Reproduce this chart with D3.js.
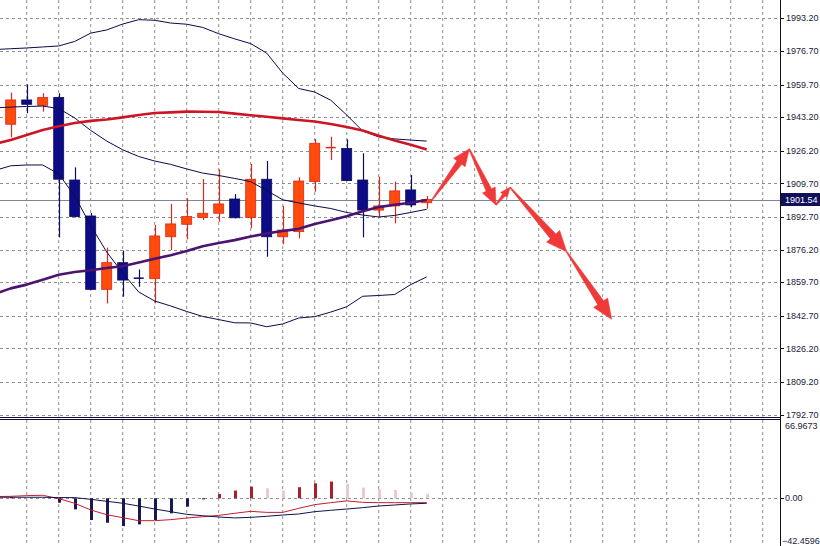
<!DOCTYPE html>
<html>
<head>
<meta charset="utf-8">
<script src="https://cdn.jsdelivr.net/npm/d3@7/dist/d3.min.js"></script>
<style>
  html, body { margin: 0; padding: 0; background: #fff; }
  svg { display: block; font-family: "Liberation Sans", Arial, sans-serif; }
</style>
</head>
<body>
<div id="chart"></div>
<script>
// candles, oldest first
const opens  = [1939.6, 1951.9, 1949.2, 1953.2, 1911.4, 1893.2, 1856.1, 1869.6, 1861.8, 1861.5, 1882.7, 1889.0, 1892.5, 1894.6, 1901.8, 1892.5, 1911.8, 1882.7, 1885.3, 1910.6, 1927.7, 1927.4, 1911.4, 1896.2, 1898.3, 1906.4, 1899.9];
const highs  = [1955.6, 1959.8, 1955.3, 1955.3, 1917.8, 1894.7, 1877.2, 1875.7, 1866.2, 1888.7, 1899.3, 1902.2, 1911.9, 1916.8, 1904.3, 1919.5, 1921.0, 1898.3, 1912.8, 1932.2, 1933.3, 1932.0, 1924.9, 1913.1, 1910.6, 1913.9, 1903.3];
const lows   = [1933.0, 1945.2, 1946.0, 1882.4, 1892.5, 1855.8, 1849.0, 1852.4, 1857.4, 1849.0, 1876.0, 1881.4, 1891.2, 1890.3, 1892.0, 1887.0, 1872.6, 1878.9, 1881.9, 1905.5, 1921.5, 1910.9, 1882.4, 1892.9, 1889.5, 1897.6, 1896.9];
const closes = [1951.9, 1949.7, 1953.2, 1911.8, 1892.9, 1856.1, 1869.6, 1860.8, 1861.7, 1883.1, 1889.2, 1892.9, 1894.6, 1899.3, 1892.3, 1911.8, 1882.7, 1886.1, 1910.9, 1930.0, 1927.9, 1911.1, 1896.2, 1898.3, 1905.9, 1898.8, 1901.54];

// indicator lines start one bar before the first visible candle
const lineStart = -1;
const bandUpper = [1977.4, 1977.8, 1978.2, 1978.7, 1979.2, 1981.5, 1985.7, 1987.3, 1990.3, 1992.5, 1992.2, 1990.8, 1990.2, 1988.6, 1985.4, 1982.8, 1980.4, 1975.6, 1965.5, 1957.7, 1955.9, 1951.8, 1944.3, 1936.2, 1933.2, 1932.2, 1931.6, 1931.1];
const bandMid   = [1947.9, 1948.3, 1948.6, 1948.8, 1947.6, 1942.8, 1936.5, 1931.1, 1926.7, 1923.3, 1921.0, 1919.3, 1917.0, 1914.9, 1913.7, 1912.2, 1910.6, 1906.1, 1901.4, 1899.8, 1898.3, 1897.0, 1895.0, 1893.7, 1892.7, 1893.5, 1895.0, 1896.6];
const bandLower = [1916.2, 1918.6, 1919.0, 1919.0, 1914.5, 1903.3, 1888.4, 1875.0, 1864.4, 1854.8, 1850.2, 1847.7, 1844.9, 1842.4, 1840.8, 1839.2, 1839.1, 1837.2, 1838.6, 1841.6, 1842.3, 1844.6, 1847.3, 1852.6, 1853.0, 1853.5, 1858.5, 1862.4];
const maSlow    = [1929.6, 1931.7, 1934.2, 1936.7, 1938.6, 1940.2, 1941.3, 1942.0, 1943.1, 1944.3, 1945.3, 1945.6, 1946.0, 1945.9, 1945.8, 1945.0, 1944.2, 1943.4, 1942.6, 1941.8, 1941.0, 1939.7, 1938.2, 1936.4, 1933.8, 1931.4, 1929.2, 1926.8];
const maFast    = [1853.8, 1856.6, 1858.5, 1861.0, 1863.5, 1864.9, 1865.8, 1866.9, 1867.8, 1869.7, 1871.6, 1873.4, 1875.5, 1877.9, 1879.5, 1881.0, 1882.8, 1884.4, 1885.6, 1886.7, 1889.2, 1891.0, 1893.1, 1895.6, 1897.7, 1898.9, 1899.9, 1901.3];

// MACD sub window
const macdHist   = [1.2, 0.3, 0.2, -3.8, -9.6, -18.8, -21.2, -24.1, -22.6, -18.8, -13.0, -7.2, -0.9, 3.7, 6.7, 10.1, 8.7, 6.7, 9.6, 13.0, 14.5, 12.4, 9.3, 8.1, 7.2, 4.9, 3.8];
const macdMain   = [1.5, 1.7, 2.3, 2.6, -0.3, -4.3, -10.1, -14.2, -16.8, -19.4, -19.4, -18.5, -17.1, -16.0, -14.8, -13.0, -11.3, -12.2, -12.2, -8.7, -5.5, -3.8, -2.3, -3.5, -3.8, -3.8, -3.8, -3.8];
const macdSignal = [0.9, 0.9, 0.9, 0.9, 0.6, 0.6, -0.9, -2.6, -4.3, -6.7, -9.3, -11.6, -13.9, -15.1, -16.2, -17.0, -16.5, -15.6, -14.5, -13.6, -11.6, -10.4, -9.3, -8.1, -6.7, -5.8, -4.9, -4.3];

// hand drawn forecast arrows (bar index, price)
const forecastBar   = [26.33, 28.66, 30.33, 31.21, 34.75, 37.56];
const forecastPrice = [1901.3, 1927.1, 1898.8, 1907.7, 1875.1, 1841.0];

const priceTicks = [1993.20, 1976.70, 1959.70, 1943.20, 1926.20, 1909.70, 1892.70, 1876.20, 1859.70, 1842.70, 1826.20, 1809.20, 1792.70];
const bidPrice = 1901.54;
const macdMax = 66.9673;
const macdMin = -42.4596;

const width = 820;
const height = 546;
const axisX = 780;
const barW = 10;
const fontSize = 9;

const svg = d3.select("#chart").append("svg")
    .attr("width", width)
    .attr("height", height);

const x = d3.scaleLinear().domain([0, 26]).range([10.7, 426.7]);
const y = d3.scaleLinear().domain([1792.7, 1993.2]).range([414.7, 18.3]);
const yM = d3.scaleLinear().domain([macdMin, macdMax]).range([547.3, 421]);

const gridColor = "#8f8f8f";

// vertical grid, every second bar, through both windows
svg.append("g")
    .selectAll("line")
    .data(d3.range(1, 48, 2))
    .join("line")
    .attr("x1", d => x(d)).attr("x2", d => x(d))
    .attr("y1", 0).attr("y2", height)
    .attr("stroke", gridColor)
    .attr("stroke-dasharray", "3,3");

// horizontal grid
svg.append("g")
    .selectAll("line")
    .data(priceTicks)
    .join("line")
    .attr("x1", 0).attr("x2", axisX)
    .attr("y1", d => Math.round(y(d)) + 0.5).attr("y2", d => Math.round(y(d)) + 0.5)
    .attr("stroke", gridColor)
    .attr("stroke-dasharray", "3,3");

svg.append("line")
    .attr("x1", 0).attr("x2", axisX)
    .attr("y1", Math.round(yM(0)) + 0.5).attr("y2", Math.round(yM(0)) + 0.5)
    .attr("stroke", gridColor)
    .attr("stroke-dasharray", "3,3");

// bid line
svg.append("line")
    .attr("x1", 0).attr("x2", axisX)
    .attr("y1", Math.round(y(bidPrice)) + 0.5).attr("y2", Math.round(y(bidPrice)) + 0.5)
    .attr("stroke", "#7a8797");

// candles
const candles = opens.map((o, i) => ({ i, o, h: highs[i], l: lows[i], c: closes[i] }));
const bullFill = "#ff4a0c", bullLine = "#d82a1c";
const bearFill = "#0c0c86", bearLine = "#0c0c5e";

const cg = svg.append("g")
    .selectAll("g")
    .data(candles)
    .join("g");

cg.append("line")
    .attr("x1", d => Math.round(x(d.i)) + 0.5).attr("x2", d => Math.round(x(d.i)) + 0.5)
    .attr("y1", d => y(d.h)).attr("y2", d => y(d.l))
    .attr("stroke", d => d.c >= d.o ? bullLine : bearLine)
    .attr("stroke-width", 1.2);

cg.each(function (d) {
    const g = d3.select(this);
    const top = y(Math.max(d.o, d.c)), bot = y(Math.min(d.o, d.c));
    const bull = d.c >= d.o;
    if (bot - top < 1.5) {
        g.append("line")
            .attr("x1", x(d.i) - barW / 2).attr("x2", x(d.i) + barW / 2)
            .attr("y1", (top + bot) / 2).attr("y2", (top + bot) / 2)
            .attr("stroke", bull ? bullLine : bearLine)
            .attr("stroke-width", 1.5);
    } else {
        g.append("rect")
            .attr("x", x(d.i) - barW / 2)
            .attr("y", top)
            .attr("width", barW)
            .attr("height", bot - top)
            .attr("fill", bull ? bullFill : bearFill)
            .attr("stroke", bull ? bullLine : bearLine)
            .attr("stroke-width", 0.8);
    }
});

// indicator lines
function drawLine(values, scale, color, w) {
    const line = d3.line()
        .x((d, i) => x(i + lineStart))
        .y(d => scale(d));
    svg.append("path")
        .datum(values)
        .attr("d", line)
        .attr("fill", "none")
        .attr("stroke", color)
        .attr("stroke-width", w)
        .attr("stroke-linejoin", "round");
}

drawLine(bandUpper, y, "#0a0a4a", 1);
drawLine(bandMid, y, "#0a0a4a", 1);
drawLine(bandLower, y, "#0a0a4a", 1);
drawLine(maSlow, y, "#cc1626", 2.6);
drawLine(maFast, y, "#4a1470", 2.6);

// forecast arrows
const arrowPts = forecastBar.map((b, i) => [x(b), y(forecastPrice[i])]);
const arrowData = d3.pairs(arrowPts);

function arrowPolygon([p0, p1]) {
    const dx = p1[0] - p0[0], dy = p1[1] - p0[1];
    const len = Math.hypot(dx, dy);
    const ux = dx / len, uy = dy / len;
    const nx = -uy, ny = ux;
    const hl = 6 + 0.17 * len;
    const hw = 0.85 * hl;
    const sw = 0.42 * hw;
    const tw = 1;
    const bx = p1[0] - ux * hl, by = p1[1] - uy * hl;
    return [
        [p0[0] + nx * tw / 2, p0[1] + ny * tw / 2],
        [bx + nx * sw / 2, by + ny * sw / 2],
        [bx + nx * hw / 2, by + ny * hw / 2],
        p1,
        [bx - nx * hw / 2, by - ny * hw / 2],
        [bx - nx * sw / 2, by - ny * sw / 2],
        [p0[0] - nx * tw / 2, p0[1] - ny * tw / 2]
    ];
}

svg.append("g")
    .selectAll("polygon")
    .data(arrowData)
    .join("polygon")
    .attr("points", d => arrowPolygon(d).map(p => p.join(",")).join(" "))
    .attr("fill", "#f03a3a")
    .attr("stroke", "#f03a3a")
    .attr("stroke-width", 0.6)
    .attr("stroke-linejoin", "round");

// MACD histogram
svg.append("g")
    .selectAll("rect")
    .data(macdHist)
    .join("rect")
    .attr("x", (d, i) => Math.round(x(i)) - 1)
    .attr("width", 3)
    .attr("y", d => yM(Math.max(0, d)))
    .attr("height", d => Math.abs(yM(d) - yM(0)))
    .attr("fill", (d, i) => {
        if (d < 0) return "#1a1a52";
        if (i === 0 || d > macdHist[i - 1]) return "#ae1e28";
        return "#e6cbd3";
    });

drawLine(macdMain, yM, "#c41e2c", 1);
drawLine(macdSignal, yM, "#12124e", 1);

// window separator
svg.append("rect")
    .attr("x", 0).attr("y", 416.5)
    .attr("width", axisX).attr("height", 2.5)
    .attr("fill", "#fff");
svg.append("line")
    .attr("x1", 0).attr("x2", axisX)
    .attr("y1", 417.5).attr("y2", 417.5)
    .attr("stroke", "#10103a");
svg.append("line")
    .attr("x1", 0).attr("x2", axisX)
    .attr("y1", 419.5).attr("y2", 419.5)
    .attr("stroke", "#10103a");

// price axis
svg.append("rect")
    .attr("x", axisX).attr("y", 0)
    .attr("width", width - axisX).attr("height", height)
    .attr("fill", "#fff");
svg.append("line")
    .attr("x1", axisX + 0.5).attr("x2", axisX + 0.5)
    .attr("y1", 0).attr("y2", height)
    .attr("stroke", "#111");

const axisG = svg.append("g");
axisG.selectAll("line")
    .data(priceTicks)
    .join("line")
    .attr("x1", axisX).attr("x2", axisX + 4)
    .attr("y1", d => Math.round(y(d)) + 0.5).attr("y2", d => Math.round(y(d)) + 0.5)
    .attr("stroke", "#111");
axisG.selectAll("text")
    .data(priceTicks)
    .join("text")
    .attr("x", axisX + 6)
    .attr("y", d => y(d))
    .attr("dy", "0.35em")
    .attr("font-size", fontSize)
    .attr("fill", "#1a1a3a")
    .text(d => d3.format(".2f")(d));

// bid label
svg.append("rect")
    .attr("x", axisX + 1).attr("y", y(bidPrice) - 6.5)
    .attr("width", width - axisX - 1).attr("height", 13)
    .attr("fill", "#10105a");
svg.append("text")
    .attr("x", axisX + 5)
    .attr("y", y(bidPrice))
    .attr("dy", "0.35em")
    .attr("font-size", fontSize)
    .attr("fill", "#fff")
    .text(d3.format(".2f")(bidPrice));

// MACD scale labels
const macdLabels = [
    { v: macdMax, t: d3.format(".4f")(macdMax), dy: 5 },
    { v: 0, t: "0.00", dy: 0 },
    { v: macdMin, t: d3.format(".4f")(macdMin), dy: -6 }
];
svg.append("line")
    .attr("x1", axisX).attr("x2", axisX + 4)
    .attr("y1", Math.round(yM(0)) + 0.5).attr("y2", Math.round(yM(0)) + 0.5)
    .attr("stroke", "#111");
svg.append("g")
    .selectAll("text")
    .data(macdLabels)
    .join("text")
    .attr("x", d => d.v < 0 ? axisX + 2 : axisX + 5)
    .attr("y", d => yM(d.v) + d.dy)
    .attr("dy", "0.35em")
    .attr("font-size", fontSize)
    .attr("fill", "#1a1a3a")
    .text(d => d.t);
</script>
</body>
</html>
